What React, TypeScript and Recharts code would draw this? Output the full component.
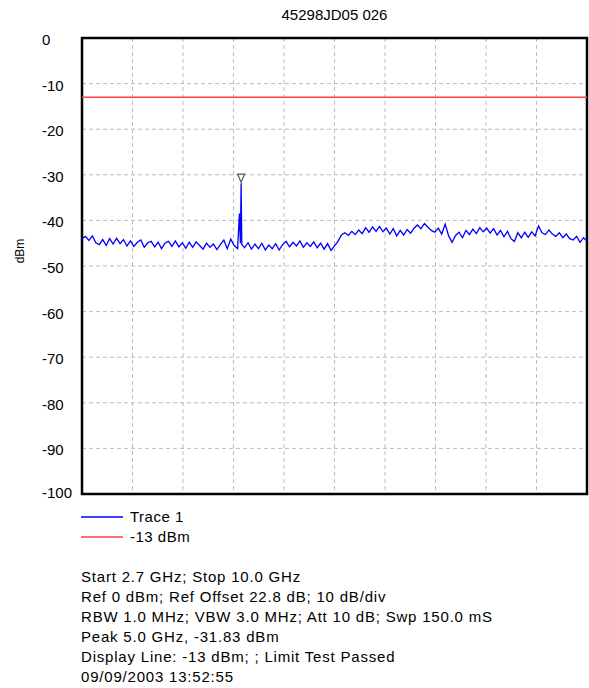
import React from 'react'
import {
  LineChart,
  Line,
  XAxis,
  YAxis,
  CartesianGrid,
  ReferenceLine,
  ReferenceArea,
  ReferenceDot,
} from 'recharts'

const TITLE = '45298JD05 026'
const START_GHZ = 2.7
const STOP_GHZ = 10.0
const LIMIT_DBM = -13
const PEAK_GHZ = 5.0
const PEAK_DBM = -31.83

// 10 divisions across the sweep, 10 dB/div down from the ref level
const xDivisions = [2.7, 3.43, 4.16, 4.89, 5.62, 6.35, 7.08, 7.81, 8.54, 9.27, 10.0]
const yTicks = [0, -10, -20, -30, -40, -50, -60, -70, -80, -90, -100]

// trace 1 (GHz / dBm)
const freqs = [
  2.7, 2.75, 2.8, 2.85, 2.9, 2.95, 3.0, 3.05, 3.1, 3.15, 3.2, 3.25, 3.3, 3.35, 3.4, 3.45,
  3.5, 3.55, 3.6, 3.65, 3.7, 3.75, 3.8, 3.85, 3.9, 3.95, 4.0, 4.05, 4.1, 4.15, 4.2, 4.25,
  4.3, 4.35, 4.4, 4.45, 4.5, 4.55, 4.6, 4.65, 4.7, 4.75, 4.8, 4.85, 4.9, 4.95, 4.975, 4.99,
  5.0, 5.01, 5.05, 5.1, 5.15, 5.2, 5.25, 5.3, 5.35, 5.4, 5.45, 5.5, 5.55, 5.6, 5.65, 5.7,
  5.75, 5.8, 5.85, 5.9, 5.95, 6.0, 6.05, 6.1, 6.15, 6.2, 6.25, 6.3, 6.35, 6.4, 6.45, 6.5,
  6.55, 6.6, 6.65, 6.7, 6.75, 6.8, 6.85, 6.9, 6.95, 7.0, 7.05, 7.1, 7.15, 7.2, 7.25, 7.3,
  7.35, 7.4, 7.45, 7.5, 7.55, 7.6, 7.65, 7.7, 7.75, 7.8, 7.85, 7.9, 7.95, 8.0, 8.05, 8.1,
  8.15, 8.2, 8.25, 8.3, 8.35, 8.4, 8.45, 8.5, 8.55, 8.6, 8.65, 8.7, 8.75, 8.8, 8.85, 8.9,
  8.95, 9.0, 9.05, 9.1, 9.15, 9.2, 9.25, 9.3, 9.35, 9.4, 9.45, 9.5, 9.55, 9.6, 9.65, 9.7,
  9.75, 9.8, 9.85, 9.9, 9.95, 10.0,
]
const levels = [
  -44.0, -43.5, -44.4, -43.4, -44.9, -45.3, -44.2, -45.5, -44.0, -45.2, -43.9, -45.1, -44.2, -45.6, -44.5, -45.7,
  -44.8, -44.3, -45.9, -44.9, -44.6, -45.8, -44.8, -46.2, -45.0, -44.6, -45.7, -44.5, -45.8, -44.9, -46.1, -44.8,
  -45.9, -44.7, -45.5, -46.3, -45.0, -45.9, -45.2, -46.4, -45.3, -44.3, -46.2, -44.1, -45.5, -46.2, -38.5, -45.0,
  -31.83, -45.3, -46.0, -44.9, -46.3, -45.2, -46.2, -45.0, -46.5, -45.4, -46.2, -45.1, -46.5, -45.3, -44.6, -45.8,
  -44.8, -45.6, -44.5, -45.9, -44.9, -45.7, -44.7, -46.0, -45.0, -46.3, -45.1, -46.6, -45.6, -44.6, -43.2, -42.7,
  -43.3, -42.4, -43.1, -42.1, -42.9, -41.6, -42.6, -41.4, -42.4, -41.3, -42.5, -41.7, -43.0, -41.8, -43.4, -42.2,
  -43.2, -42.0, -42.8, -41.7, -41.0, -41.8, -40.7, -41.5, -42.2, -42.6, -41.7, -43.0, -40.8, -43.4, -44.8, -43.3,
  -42.6, -43.8, -42.2, -43.1, -41.9, -42.9, -41.6, -42.5, -41.7, -42.8, -41.8, -43.2, -42.2, -43.6, -42.4, -44.0,
  -44.6, -42.7, -43.8, -42.6, -43.7, -42.5, -43.4, -41.2, -42.7, -43.1, -42.1, -43.0, -43.5, -42.7, -43.8, -43.0,
  -44.0, -44.3, -43.5, -44.8, -43.8, -44.5,
]

const infoLines = [
  'Start 2.7 GHz; Stop 10.0 GHz',
  'Ref 0 dBm; Ref Offset 22.8 dB; 10 dB/div',
  'RBW 1.0 MHz; VBW 3.0 MHz; Att 10 dB; Swp 150.0 mS',
  'Peak 5.0 GHz, -31.83 dBm',
  'Display Line: -13 dBm; ; Limit Test Passed',
  '09/09/2003 13:52:55',
]

const legendItems = [
  { label: 'Trace 1', color: '#0000ff' },
  { label: '-13 dBm', color: '#ff4040' },
]

const data = freqs.map((f, i) => ({ f, dbm: levels[i] }))

const FONT = 'Arial, "Liberation Sans", sans-serif'

const YTick = ({ x, y, payload }: any) => (
  <text x={x} y={y} dy={7} textAnchor="start" fontSize={15} fill="#000" fontFamily={FONT}>
    {payload.value}
  </text>
)

const NoTick = () => <g />

const PeakMarker = ({ cx, cy }: any) => (
  <path
    d={`M${cx - 3.5},${cy - 9} L${cx + 3.5},${cy - 9} L${cx},${cy - 1} Z`}
    fill="none"
    stroke="#555"
    strokeWidth={1.2}
  />
)

const AxisLabel = ({ viewBox }: any) => {
  const cx = viewBox.x + 14
  const cy = viewBox.y + viewBox.height / 2 - 15
  return (
    <text x={cx} y={cy} transform={`rotate(-90 ${cx} ${cy})`} textAnchor="middle" fontSize={12} fontFamily={FONT} fill="#000">
      dBm
    </text>
  )
}

export default function App() {
  return (
    <div style={{ position: 'absolute', left: 0, top: 0, width: 589, height: 688, background: '#fff', fontFamily: FONT, color: '#000' }}>
      <div style={{ position: 'absolute', top: 6, left: 82, width: 505, textAlign: 'center', fontSize: 15, lineHeight: '18px' }}>
        {TITLE}
      </div>
      <LineChart width={589} height={500} data={data} margin={{ top: 38, right: 2, bottom: 0, left: 10 }}>
        <CartesianGrid stroke="#bdbdbd" strokeDasharray="4 3" />
        <XAxis
          type="number"
          dataKey="f"
          domain={[START_GHZ, STOP_GHZ]}
          ticks={xDivisions}
          interval={0}
          height={6}
          tick={<NoTick />}
          axisLine={false}
          tickLine={false}
        />
        <YAxis
          type="number"
          domain={[-100, 0]}
          ticks={yTicks}
          width={72}
          axisLine={false}
          tickLine={false}
          tickSize={0}
          tickMargin={40}
          tick={<YTick />}
          label={<AxisLabel />}
        />
        <ReferenceLine y={LIMIT_DBM} stroke="#ff4040" strokeWidth={1.6} />
        <Line
          type="linear"
          dataKey="dbm"
          stroke="#0000ff"
          strokeWidth={1.3}
          dot={false}
          isAnimationActive={false}
        />
        <ReferenceDot x={PEAK_GHZ} y={PEAK_DBM} shape={<PeakMarker />} />
        <ReferenceArea x1={START_GHZ} x2={STOP_GHZ} y1={-100} y2={0} fill="none" stroke="#000" strokeWidth={2.5} />
      </LineChart>
      <div style={{ position: 'absolute', top: 507, left: 81, fontSize: 15, lineHeight: '20px', letterSpacing: 0.5 }}>
        {legendItems.map((it) => (
          <div key={it.label} style={{ display: 'flex', alignItems: 'center' }}>
            <svg width={42} height={4} style={{ marginRight: 7 }}>
              <line x1={0} y1={2} x2={42} y2={2} stroke={it.color} strokeWidth={1.5} />
            </svg>
            <span>{it.label}</span>
          </div>
        ))}
      </div>
      <div style={{ position: 'absolute', top: 567, left: 81, fontSize: 15, lineHeight: '20px', letterSpacing: 0.8, whiteSpace: 'nowrap' }}>
        {infoLines.map((l) => (
          <div key={l}>{l}</div>
        ))}
      </div>
    </div>
  )
}
